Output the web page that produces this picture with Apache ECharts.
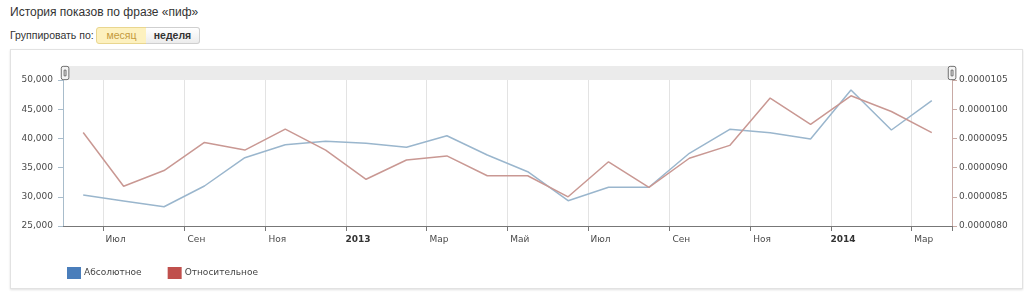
<!DOCTYPE html>
<html>
<head>
<meta charset="utf-8">
<script src="https://cdn.jsdelivr.net/npm/echarts@6/dist/echarts.min.js"></script>
<style>
  html, body { margin:0; padding:0; background:#fff; width:1024px; height:292px; overflow:hidden; font-family:"Liberation Sans", Arial, sans-serif; }
  #title { position:absolute; left:10px; top:5px; font-size:12px; color:#333; white-space:nowrap; }
  #group { position:absolute; left:10px; top:29px; font-size:10.5px; color:#333; white-space:nowrap; }
  .btn { position:absolute; top:27px; height:15px; line-height:15px; font-size:10.5px; text-align:center; box-sizing:content-box; }
  #b1 { left:96px; width:49px; background:#fdf1bf; border:1px solid #e9d68f; border-radius:3px 0 0 3px; color:#c49a3c; }
  #b2 { left:146px; width:53px; background:linear-gradient(#ffffff,#ececec); border:1px solid #cfcfcf; border-left:none; border-radius:0 3px 3px 0; color:#333; font-weight:bold; }
  #box { position:absolute; left:10px; top:49px; width:1011px; height:238px; border:1px solid #e2e2e2; box-shadow:0 1px 2px rgba(0,0,0,0.12); background:#fff; }
  #chart { position:absolute; left:0; top:0; width:1024px; height:292px; }
</style>
</head>
<body>
<div id="title">История показов по фразе «пиф»</div>
<div id="group">Группировать по:</div>
<div class="btn" id="b1">месяц</div>
<div class="btn" id="b2">неделя</div>
<div id="box"></div>
<div id="chart"></div>
<script>
// Months (Jun 2012 .. Mar 2014)
var months = ['2012-06','2012-07','2012-08','2012-09','2012-10','2012-11','2012-12','2013-01','2013-02','2013-03','2013-04','2013-05','2013-06','2013-07','2013-08','2013-09','2013-10','2013-11','2013-12','2014-01','2014-02','2014-03'];
// Tick labels for each month
var tickLabels = ['Июн','Июл','Авг','Сен','Окт','Ноя','Дек','2013','Фев','Мар','Апр','Май','Июн','Июл','Авг','Сен','Окт','Ноя','Дек','2014','Фев','Мар'];
// Absolute impressions
var absoluteValues = [30300, 29300, 28300, 31850, 36700, 38900, 39500, 39150, 38480, 40460, 37160, 34300, 29330, 31630, 31630, 37450, 41560, 40980, 39900, 48290, 41440, 46460];
// Relative impressions
var relativeValues = [0.0000096, 0.00000868, 0.00000895, 0.00000943, 0.0000093, 0.00000966, 0.0000093, 0.0000088, 0.00000913, 0.0000092, 0.00000886, 0.00000886, 0.0000085, 0.0000091, 0.00000866, 0.00000916, 0.00000938, 0.00001019, 0.00000974, 0.00001023, 0.00000996, 0.0000096];
// Y axis ranges
var leftAxis = { min: 25000, max: 50000, interval: 5000 };
var rightAxis = { min: 0.000008, max: 0.0000105, interval: 0.0000005 };
var seriesNames = ['Абсолютное', 'Относительное'];

var chart = echarts.init(document.getElementById('chart'), null, { renderer: 'canvas' });
var tickShown = function (index) { return index % 2 === 1; };
var FONT = 'DejaVu Sans';

chart.setOption({
  animation: false,
  grid: { left: 63, right: 72, top: 80, bottom: 66, containLabel: false },
  legend: {
    left: 62, top: 262,
    icon: 'rect', itemWidth: 14, itemHeight: 12, itemGap: 26,
    textStyle: { fontFamily: FONT, fontSize: 9, color: '#444', padding: [0, 0, 0, -2] },
    data: [
      { name: seriesNames[0], itemStyle: { color: '#4a7ebb' } },
      { name: seriesNames[1], itemStyle: { color: '#c0504d' } }
    ],
    selectedMode: false
  },
  dataZoom: [{
    type: 'slider', xAxisIndex: 0, top: 66, height: 14, left: 63, right: 72,
    start: 0, end: 100, zoomLock: true, filterMode: 'none',
    showDetail: false, showDataShadow: false, brushSelect: false, moveHandleSize: 0,
    backgroundColor: '#ebebeb', borderColor: 'transparent', fillerColor: 'rgba(0,0,0,0)',
    handleIcon: 'path://M2,0 H6 Q8,0 8,2 V12 Q8,14 6,14 H2 Q0,14 0,12 V2 Q0,0 2,0 Z M3,4 V10 H5 V4 Z',
    handleSize: '95%',
    handleStyle: { color: '#f4f4f4', borderColor: '#6f6f6f', borderWidth: 1 },
    emphasis: { handleStyle: { color: '#f4f4f4', borderColor: '#6f6f6f', borderWidth: 1 } },
    dataBackground: { lineStyle: { opacity: 0 }, areaStyle: { opacity: 0 } },
    selectedDataBackground: { lineStyle: { opacity: 0 }, areaStyle: { opacity: 0 } }
  }],
  xAxis: {
    type: 'category', data: months, boundaryGap: true,
    axisLine: { show: true, lineStyle: { color: '#777', width: 1 } },
    axisTick: { show: true, length: 5, interval: tickShown, lineStyle: { color: '#777' } },
    splitLine: { show: true, interval: tickShown, lineStyle: { color: '#e3e3e3', width: 1 } },
    axisLabel: {
      interval: tickShown, margin: 9, fontFamily: FONT, fontSize: 9, color: '#4a4a4a',
      padding: [0, 16, 0, 0],
      formatter: function (value, index) {
        var l = tickLabels[index];
        return /^\d{4}$/.test(l) ? '{b|' + l + '}' : l;
      },
      rich: { b: { fontFamily: FONT, fontSize: 9, fontWeight: 'bold', color: '#333' } }
    }
  },
  yAxis: [{
    type: 'value', position: 'left', min: leftAxis.min, max: leftAxis.max, interval: leftAxis.interval,
    axisLine: { show: true, lineStyle: { color: '#a8bccb', width: 1 } },
    axisTick: { show: true, length: 5, lineStyle: { color: '#a8bccb' } },
    splitLine: { show: false },
    axisLabel: {
      margin: 10, fontFamily: FONT, fontSize: 9, color: '#4a4a4a',
      formatter: function (v) { return v.toString().replace(/\B(?=(\d{3})+(?!\d))/g, ','); }
    }
  }, {
    type: 'value', position: 'right', min: rightAxis.min, max: rightAxis.max, interval: rightAxis.interval,
    axisLine: { show: true, lineStyle: { color: '#c8aaa5', width: 1 } },
    axisTick: { show: true, length: 5, lineStyle: { color: '#c8aaa5' } },
    splitLine: { show: false },
    axisLabel: {
      margin: 7, fontFamily: FONT, fontSize: 9, color: '#4a4a4a',
      formatter: function (v) { return Number(v).toFixed(7); }
    }
  }],
  series: [{
    name: seriesNames[0], type: 'line', yAxisIndex: 0, data: absoluteValues,
    symbol: 'none', smooth: false,
    lineStyle: { color: '#9ab6cd', width: 1.5 },
    itemStyle: { color: '#4a7ebb' }
  }, {
    name: seriesNames[1], type: 'line', yAxisIndex: 1, data: relativeValues,
    symbol: 'none', smooth: false,
    lineStyle: { color: '#c99893', width: 1.5 },
    itemStyle: { color: '#c0504d' }
  }]
});
</script>
</body>
</html>
